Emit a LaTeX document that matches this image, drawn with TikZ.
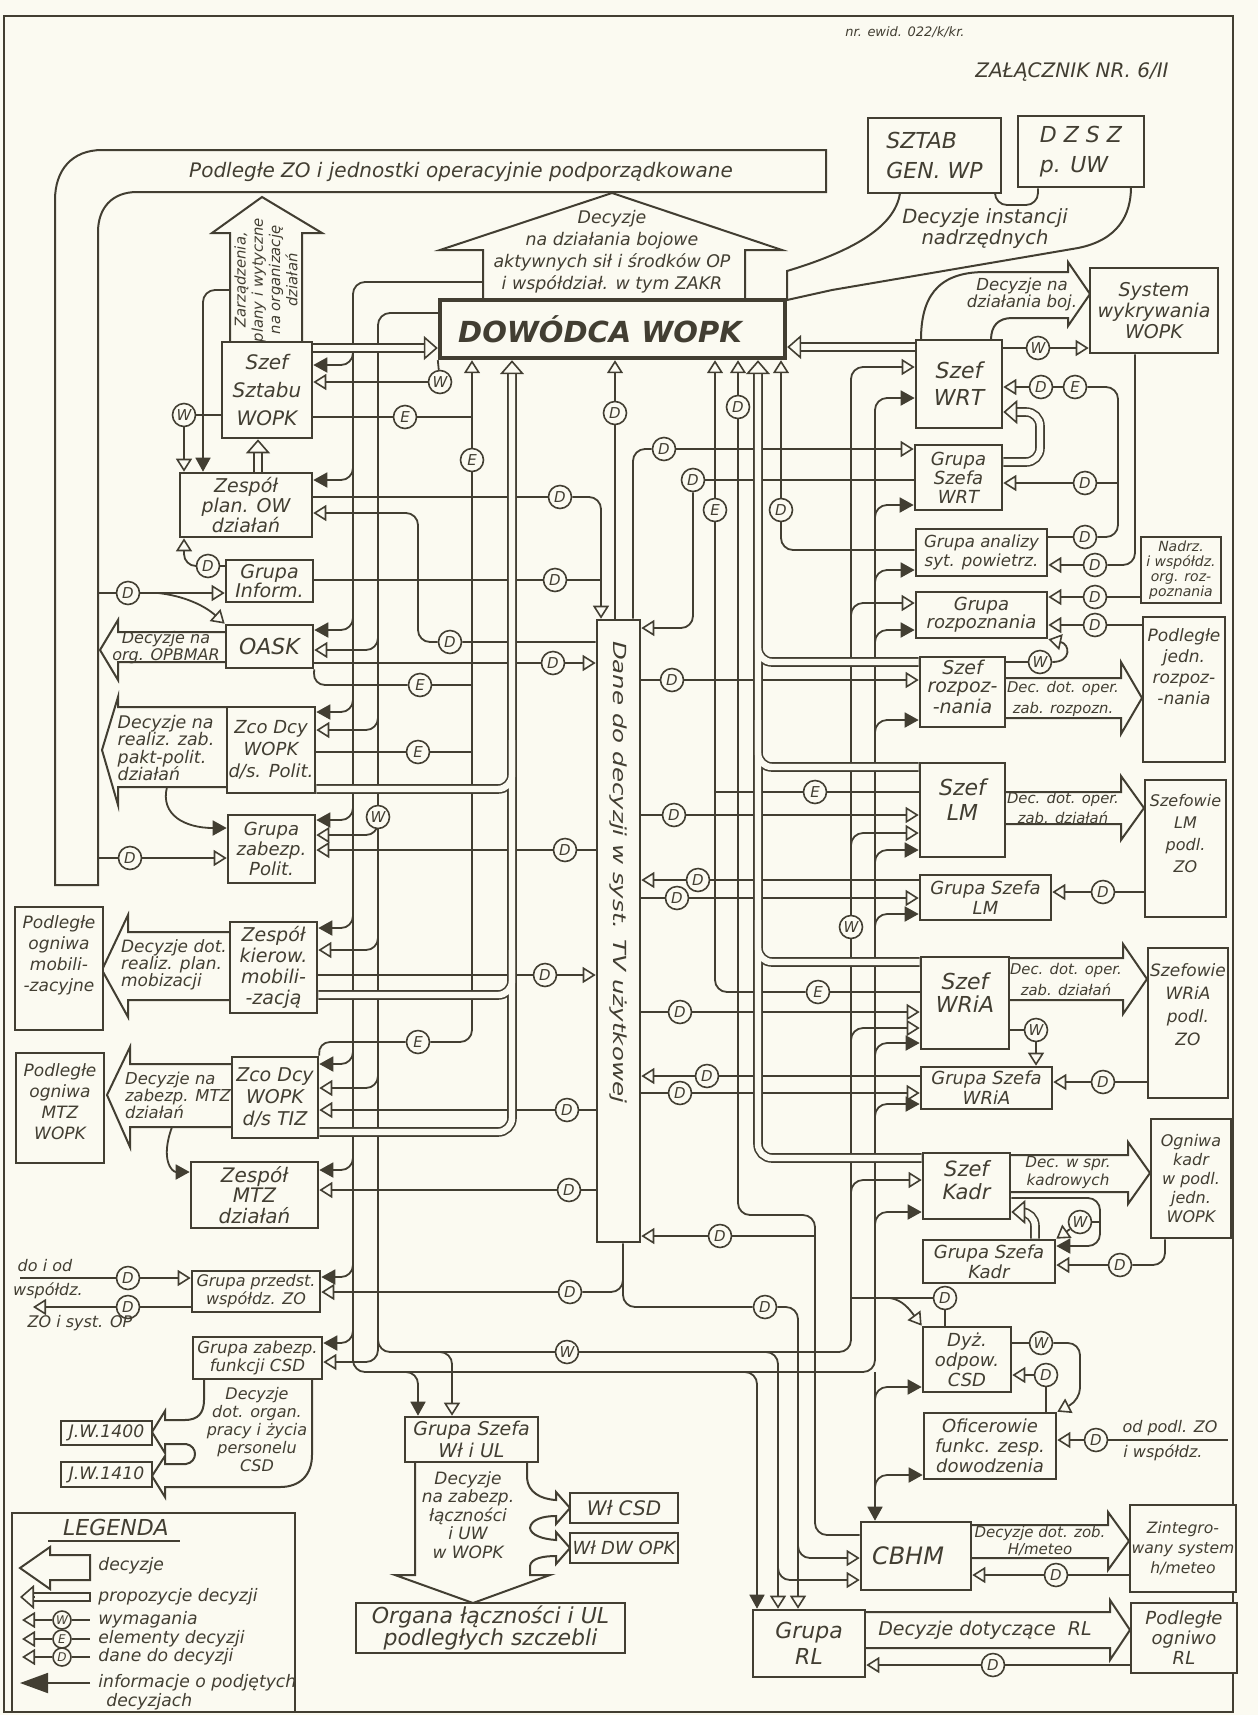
\documentclass[tikz,border=0pt]{standalone}
\usepackage{fontspec}
\usepackage{graphicx}
\setmainfont{DejaVu Sans}
\usetikzlibrary{arrows.meta,fit,calc}
\definecolor{bgc}{RGB}{251,250,241}
\definecolor{lc}{RGB}{66,62,50}
\pgfdeclarelayer{back}
\pgfdeclarelayer{lines}
\pgfsetlayers{back,lines,main}
\newcommand\hwf[2]{\itshape\fontsize{#1}{#2}\selectfont}
\newcommand\mkbox[7][]{%
  \coordinate (#2-a) at (#3,#4);
  \coordinate (#2-b) at (#5,#6);
  \node[box,fit=(#2-a)(#2-b)] (#2) {};
  \node[txt,#1] (#2-t) at (#2.center) {#7};}
\newcommand\propPaths[1]{%
 \draw[#1] (szsz.east |- 0,348) -- (426,348);
 \draw[#1] (zesp.north -| 258,0) -- (258,452);
 \draw[#1] (zpol.east |- 0,789) -- (512,789) -- (512,740);
 \draw[#1] (zkm.east |- 0,995) -- (512,995) -- (512,950);
 \draw[#1] (ztiz.east |- 0,1132) -- (512,1132) -- (512,372);
 \draw[#1] (gswrt.east |- 0,462) -- (1040,462) -- (1040,412) -- (1016,412);
 \draw[#1] (szkadr.west |- 0,1158) -- (758,1158) -- (758,372);
 \draw[#1] (szroz.west |- 0,662) -- (758,662) -- (758,620);
 \draw[#1] (szlm.west |- 0,767) -- (758,767) -- (758,720);
 \draw[#1] (szwria.west |- 0,962) -- (758,962) -- (758,920);
 \draw[#1] (szwrt.west |- 0,347) -- (799,347);
 \draw[#1] (gskadr.north -| 1035,0) -- (1035,1212) -- (1024,1212);
}
\begin{document}
\begin{tikzpicture}[x=0.5pt,y=-0.5pt,
 box/.style={draw=lc,fill=bgc,line width=1.3pt,inner sep=0pt},
 txt/.style={align=center,text=lc,inner sep=0pt,font=\hwf{10}{13}},
 cl/.style={circle,draw=lc,fill=bgc,line width=0.8pt,inner sep=0pt,minimum size=11.5pt,text=lc,font=\hwf{7.5}{8}},
 cls/.style={cl,minimum size=9pt,font=\hwf{6}{6}},
 c/.style={draw=lc,line width=0.9pt,rounded corners=6pt},
 hh/.style={-{Triangle[length=6.5pt,width=8pt,fill=bgc,line width=0.8pt]}},
 fh/.style={-{Triangle[length=7pt,width=7.5pt]}},
 bigar/.style={draw=lc,fill=bgc,line width=1pt,line join=miter},
 propO/.style={draw=lc,line width=4.8pt,rounded corners=7pt},
 propI/.style={draw=bgc,line width=3.2pt,rounded corners=7pt},
 phead/.style={line width=0.8pt,draw=lc,-{Triangle[length=7pt,width=12pt,fill=bgc,line width=0.8pt]}},
]
\useasboundingbox (0,0) rectangle (1258,1715);
\begin{pgfonlayer}{back}
 \fill[bgc] (0,0) rectangle (1258,1715);
 \draw[lc,line width=1.1pt] (4,16) rectangle (1233,1712);
\end{pgfonlayer}

% header
\node[txt,font=\hwf{6.5}{7}] (hd1) at (905,32) {nr. ewid. 022/k/kr.};
\node[txt,font=\hwf{10}{11}] (hd2) at (1072,72) {ZAŁĄCZNIK NR. 6/II};

% band
\draw[bigar] (55,885) -- (55,200) .. controls (55,170) and (72,150) .. (102,150) -- (826,150) -- (826,192) -- (137,192) .. controls (112,192) and (98,208) .. (98,232) -- (98,885) -- cycle;
\node[txt] (bandt) at (461,172) {Podległe ZO i jednostki operacyjnie podporządkowane};

% big arrows
\draw[bigar] (483,300) -- (483,250) -- (440,250) -- (612,193) -- (782,250) -- (745,250) -- (745,300);
\node[txt,font=\hwf{8.7}{11}] (a1t) at (612,252) {Decyzje\\na działania bojowe\\aktywnych sił i środków OP\\i współdział. w tym ZAKR};
\draw[bigar] (230,342) -- (230,233) -- (212,233) -- (262,197) -- (322,233) -- (302,233) -- (302,342);
\node[txt,font=\hwf{7.4}{8.6},rotate=90] (a2t) at (266,280) {Zarządzenia,\\plany i wytyczne\\na organizację\\działań};
\draw[bigar] (226,632) -- (118,632) -- (118,620) -- (100,650) -- (118,680) -- (118,662) -- (226,662);
\node[txt,font=\hwf{8}{8.5}] (a3t) at (166,648) {Decyzje na\\org. OPBMAR};
\draw[bigar] (227,707) -- (118,707) -- (118,697) -- (102,750) -- (118,805) -- (118,787) -- (227,787);
\node[txt,font=\hwf{8.7}{8.8},align=left] (a4t) at (166,748) {Decyzje na\\realiz. zab.\\pakt-polit.\\działań};
\draw[bigar] (230,932) -- (128,932) -- (128,915) -- (102,970) -- (128,1017) -- (128,1000) -- (230,1000);
\node[txt,font=\hwf{8.5}{8.5},align=left] (a5t) at (174,965) {Decyzje dot.\\realiz. plan.\\mobizacji};
\draw[bigar] (232,1064) -- (130,1064) -- (130,1047) -- (107,1095) -- (130,1147) -- (130,1127) -- (232,1127);
\node[txt,font=\hwf{8.2}{8.5},align=left] (a6t) at (178,1095) {Decyzje na\\zabezp. MTZ\\działań};
\draw[bigar] (204,1379) -- (204,1400) .. controls (204,1413) and (198,1420) .. (185,1420) -- (165,1420) -- (165,1411) -- (152,1432) -- (165,1453) -- (165,1444) -- (186,1444) .. controls (198,1446) and (198,1462) .. (186,1464) -- (165,1464) -- (165,1456) -- (152,1476) -- (165,1497) -- (165,1487) -- (280,1487) .. controls (300,1487) and (312,1475) .. (312,1455) -- (312,1379);
\node[txt,font=\hwf{8}{9}] (a7t) at (257,1430) {Decyzje\\dot. organ.\\pracy i życia\\personelu\\CSD};
\draw[bigar] (527,1462) -- (527,1478) .. controls (528,1492) and (540,1499) .. (556,1500) -- (556,1492) -- (570,1508) -- (556,1524) -- (556,1516) .. controls (544,1516) and (531,1519) .. (530,1528) .. controls (531,1535) and (542,1539) .. (556,1540) -- (556,1532) -- (570,1548) -- (556,1564) -- (556,1556) .. controls (544,1556) and (531,1558) .. (530,1566) -- (530,1575) -- (550,1575) -- (473,1603) -- (395,1575) -- (415,1575) -- (415,1462);
\node[txt,font=\hwf{8.5}{9.2}] (a8t) at (468,1515) {Decyzje\\na zabezp.\\łączności\\i UW\\w WOPK};
\draw[bigar] (1005,678) -- (1121,678) -- (1121,662) -- (1142,698) -- (1121,734) -- (1121,718) -- (1005,718);
\draw[bigar] (1005,792) -- (1121,792) -- (1121,776) -- (1144,808) -- (1121,840) -- (1121,824) -- (1005,824);
\draw[bigar] (1009,958) -- (1123,958) -- (1123,944) -- (1147,979) -- (1123,1014) -- (1123,1000) -- (1009,1000);
\draw[bigar] (1010,1155) -- (1128,1155) -- (1128,1142) -- (1150,1173) -- (1128,1204) -- (1128,1192) -- (1010,1192);
\draw[bigar] (971,1525) -- (1108,1525) -- (1108,1512) -- (1129,1541) -- (1108,1570) -- (1108,1558) -- (971,1558);
\draw[bigar] (865,1612) -- (1110,1612) -- (1110,1600) -- (1130,1630) -- (1110,1660) -- (1110,1648) -- (865,1648);
\node[txt,font=\hwf{7.4}{10.5}] (r1t) at (1063,699) {Dec. dot. oper.\\zab. rozpozn.};
\node[txt,font=\hwf{7.4}{10}] (r2t) at (1063,808) {Dec. dot. oper.\\zab. działań};
\node[txt,font=\hwf{7.4}{10.5}] (r3t) at (1066,979) {Dec. dot. oper.\\zab. działań};
\node[txt,font=\hwf{7.6}{9}] (r4t) at (1068,1173) {Dec. w spr.\\kadrowych};
\node[txt,font=\hwf{7.5}{7}] (r5t) at (1040,1541) {Decyzje dot. zob.\\H/meteo};
\node[txt,font=\hwf{9.5}{10}] (r6t) at (985,1630) {Decyzje dotyczące~~RL};
\draw[bigar] (921,340) .. controls (921,300) and (935,272) .. (985,272) -- (1068,272) -- (1068,262) -- (1090,294) -- (1068,326) -- (1068,318) -- (1012,318) .. controls (998,318) and (991,326) .. (991,340);
\node[txt,font=\hwf{8.3}{8.5}] (bojt) at (1022,294) {Decyzje na\\działania boj.};
\draw[bigar] (900,193) .. controls (895,228) and (850,252) .. (787,271) -- (787,300) -- (832,290) -- (1078,248) .. controls (1118,240) and (1131,215) .. (1131,187);
\node[txt,font=\hwf{9.8}{9.2}] (inst) at (985,229) {Decyzje instancji\\nadrzędnych};

% boxes
\coordinate (dow-a) at (440,300); \coordinate (dow-b) at (785,358);
\node[box,line width=2.2pt,fit=(dow-a)(dow-b)] (dow) {};
\node[txt,font=\bfseries\itshape\fontsize{14.5}{16}\selectfont] (dow-t) at (600,329) {DOWÓDCA WOPK};
\mkbox[font=\hwf{11}{15},align=left]{sztab}{868}{118}{1001}{193}{SZTAB\\GEN. WP}
\mkbox[font=\hwf{11}{15},align=left]{dzsz}{1018}{116}{1144}{187}{D Z S Z\\p. UW}
\draw[c] (sztab.south -| 995,0) -- (995,205) -- (1038,205) -- (dzsz.south -| 1038,0);
\mkbox[font=\hwf{9.5}{10.7}]{syswyk}{1090}{268}{1218}{353}{System\\wykrywania\\WOPK}
\mkbox[font=\hwf{10}{14}]{szsz}{222}{342}{312}{438}{Szef\\Sztabu\\WOPK}
\mkbox[font=\hwf{9.5}{9.8}]{zesp}{180}{473}{312}{537}{Zespół\\plan. OW\\działań}
\mkbox[font=\hwf{9.5}{9.5}]{ginf}{226}{560}{313}{602}{Grupa\\Inform.}
\mkbox[font=\hwf{11}{12}]{oask}{226}{625}{313}{668}{OASK}
\mkbox[font=\hwf{9}{11}]{zpol}{227}{707}{315}{793}{Zco Dcy\\WOPK\\d/s. Polit.}
\mkbox[font=\hwf{9}{10}]{gzp}{228}{815}{315}{883}{Grupa\\zabezp.\\Polit.}
\mkbox[font=\hwf{8.5}{10.5},yshift=6.5pt]{pom}{15}{907}{103}{1030}{Podległe\\ogniwa\\mobili-\\-zacyjne}
\mkbox[font=\hwf{9.5}{10.5}]{zkm}{230}{922}{317}{1013}{Zespół\\kierow.\\mobili-\\-zacją}
\mkbox[font=\hwf{8.5}{10.5},yshift=3pt]{pomtz}{16}{1053}{104}{1163}{Podległe\\ogniwa\\MTZ\\WOPK}
\mkbox[font=\hwf{9.5}{11}]{ztiz}{232}{1057}{318}{1138}{Zco Dcy\\WOPK\\d/s TIZ}
\mkbox[font=\hwf{10}{10.2}]{zmtz}{191}{1162}{318}{1228}{Zespół\\MTZ\\działań}
\mkbox[font=\hwf{8}{9}]{gpw}{192}{1271}{320}{1312}{Grupa przedst.\\współdz. ZO}
\mkbox[font=\hwf{8.3}{9}]{gcsd}{193}{1337}{322}{1379}{Grupa zabezp.\\funkcji CSD}
\mkbox[font=\hwf{8.6}{9}]{jwa}{61}{1421}{152}{1445}{J.W.1400}
\mkbox[font=\hwf{8.6}{9}]{jwb}{61}{1462}{152}{1487}{J.W.1410}
\mkbox[font=\hwf{9.5}{11}]{gwl}{405}{1417}{538}{1462}{Grupa Szefa\\Wł i UL}
\mkbox[font=\hwf{11}{11}]{org}{356}{1603}{625}{1653}{Organa łączności i UL\\podległych szczebli}
\mkbox[font=\hwf{10}{10}]{wlcsd}{570}{1493}{678}{1523}{Wł CSD}
\mkbox[font=\hwf{9}{9}]{wldw}{570}{1533}{678}{1563}{Wł DW OPK}
\mkbox[yshift=29.5pt,rotate=-90,font=\hwf{9}{9}]{dane}{597}{620}{640}{1242}{\scalebox{1.36}[1]{Dane do decyzji w syst. TV użytkowej}}
\mkbox[font=\hwf{11}{13.5}]{szwrt}{916}{340}{1002}{428}{Szef\\WRT}
\mkbox[font=\hwf{9}{9.5}]{gswrt}{915}{445}{1002}{510}{Grupa\\Szefa\\WRT}
\mkbox[font=\hwf{8.3}{9.5}]{gan}{916}{529}{1047}{576}{Grupa analizy\\syt. powietrz.}
\mkbox[font=\hwf{9}{9}]{groz}{916}{592}{1047}{638}{Grupa\\rozpoznania}
\mkbox[font=\hwf{9.5}{9},yshift=2.5pt]{szroz}{920}{657}{1005}{727}{Szef\\rozpoz-\\-nania}
\mkbox[font=\hwf{7}{7.6}]{nadrz}{1141}{537}{1221}{603}{Nadrz.\\i współdz.\\org. roz-\\poznania}
\mkbox[font=\hwf{8.5}{10.5},yshift=11.5pt]{podroz}{1143}{617}{1225}{762}{Podległe\\jedn.\\rozpoz-\\-nania}
\mkbox[font=\hwf{11}{12.5},yshift=5pt]{szlm}{920}{763}{1005}{857}{Szef\\LM}
\mkbox[font=\hwf{8}{11},yshift=7.5pt]{szflm}{1145}{780}{1226}{917}{Szefowie\\LM\\podl.\\ZO}
\mkbox[font=\hwf{9}{10}]{gslm}{920}{875}{1051}{920}{Grupa Szefa\\LM}
\mkbox[font=\hwf{11}{11.5},yshift=5pt]{szwria}{921}{957}{1009}{1049}{Szef\\WRiA}
\mkbox[font=\hwf{8.5}{11.5},yshift=9pt]{szfwria}{1148}{948}{1228}{1098}{Szefowie\\WRiA\\podl.\\ZO}
\mkbox[font=\hwf{9}{10}]{gswria}{921}{1067}{1052}{1109}{Grupa Szefa\\WRiA}
\mkbox[font=\hwf{10.5}{11.5},yshift=3pt]{szkadr}{923}{1153}{1010}{1219}{Szef\\Kadr}
\mkbox[font=\hwf{8}{9.5}]{ogk}{1151}{1119}{1231}{1238}{Ogniwa\\kadr\\w podl.\\jedn.\\WOPK}
\mkbox[font=\hwf{9}{10}]{gskadr}{923}{1240}{1055}{1283}{Grupa Szefa\\Kadr}
\mkbox[font=\hwf{9}{10}]{dyz}{923}{1327}{1011}{1392}{Dyż.\\odpow.\\CSD}
\mkbox[font=\hwf{9}{10}]{ofic}{924}{1413}{1056}{1479}{Oficerowie\\funkc. zesp.\\dowodzenia}
\mkbox[font=\hwf{12}{12},xshift=-4pt]{cbhm}{861}{1522}{971}{1590}{CBHM}
\mkbox[font=\hwf{7.8}{10}]{zint}{1130}{1505}{1236}{1592}{Zintegro-\\wany system\\h/meteo}
\mkbox[font=\hwf{11}{13}]{grl}{753}{1610}{865}{1677}{Grupa\\RL}
\mkbox[font=\hwf{9}{10}]{porl}{1131}{1603}{1237}{1673}{Podległe\\ogniwo\\RL}
\mkbox{leg}{12}{1513}{295}{1712}{}

% circles
\foreach \nm/\x/\y/\l in {w1/184/415/W, e1/405/417/E, w2/440/382/W, e2/472/460/E, d1/615/413/D, d2/738/407/D, d3/560/497/D, d4/555/580/D, d5/450/642/D, d6/553/663/D, d7/208/566/D, d8/128/593/D, e3/420/685/E, e4/418/752/E, w3/378/817/W, d9/565/850/D, d10/130/858/D, d11/545/975/D, e5/418/1042/E, d12/567/1110/D, d13/569/1190/D, d14/128/1278/D, d15/128/1307/D, d16/570/1292/D, w4/567/1352/W, d17/765/1307/D, d18/664/449/D, d19/693/480/D, e6/715/510/E, d20/781/510/D, w5/1038/348/W, d21/1041/387/D, e7/1075/387/E, d22/1085/483/D, d23/1085/537/D, d24/1095/565/D, d25/1095/597/D, d26/1095/625/D, w6/1040/662/W, d27/672/680/D, e8/815/792/E, d28/674/815/D, d29/698/880/D, d30/677/898/D, w7/851/927/W, d31/1103/892/D, e9/818/992/E, d32/680/1012/D, w8/1036/1030/W, d33/707/1076/D, d34/680/1093/D, d35/1103/1082/D, w9/1080/1222/W, d36/1120/1265/D, d37/720/1236/D, d38/945/1298/D, w10/1041/1343/W, d39/1046/1375/D, d40/1096/1440/D, d41/1056/1575/D, d42/993/1665/D}
  \node[cl] (\nm) at (\x,\y) {\l};

% free texts
\node[txt,font=\hwf{8}{9}] (t1) at (1170,1428) {od podl. ZO};
\node[txt,font=\hwf{8}{9}] (t2) at (1163,1453) {i współdz.};
\node[txt,font=\hwf{8}{9}] (t3) at (45,1266) {do i od};
\node[txt,font=\hwf{8}{9}] (t4) at (48,1291) {współdz.};
\node[txt,font=\hwf{8}{9}] (t5) at (80,1323) {ZO i syst. OP};

% legend
\node[txt,font=\hwf{11}{11}] (lg0) at (116,1527) {LEGENDA};
\draw[lc,line width=0.8pt] (48,1541) -- (180,1541);
\draw[bigar] (90,1555) -- (50,1555) -- (50,1547) -- (20,1568) -- (50,1589) -- (50,1580) -- (90,1580) -- cycle;
\node[txt,font=\hwf{8.6}{9},anchor=west] (lg1) at (98,1566) {decyzje};
\draw[propO] (90,1597) -- (34,1597);
\draw[propI] (90,1597) -- (34,1597);
\draw[lc,line width=0.8pt] (90,1592.2) -- (90,1601.8);
\draw[phead] (34,1597) -- (20,1597);
\node[txt,font=\hwf{8.6}{9},anchor=west] (lg2) at (98,1597) {propozycje decyzji};
\node[cls] (lw) at (62,1620) {W};
\node[cls] (le) at (62,1639) {E};
\node[cls] (ld) at (62,1657) {D};
\draw[c,hh] (lw) -- (22,1620); \draw[c] (lw) -- (90,1620);
\draw[c,hh] (le) -- (22,1639); \draw[c] (le) -- (90,1639);
\draw[c,hh] (ld) -- (22,1657); \draw[c] (ld) -- (90,1657);
\node[txt,font=\hwf{8.6}{9},anchor=west] (lg3) at (98,1620) {wymagania};
\node[txt,font=\hwf{8.6}{9},anchor=west] (lg4) at (98,1639) {elementy decyzji};
\node[txt,font=\hwf{8.6}{9},anchor=west] (lg5) at (98,1657) {dane do decyzji};
\draw[c,-{Triangle[length=14pt,width=10pt]}] (90,1683) -- (20,1683);
\node[txt,font=\hwf{8.6}{9},anchor=west] (lg6) at (98,1683) {informacje o podjętych};
\node[txt,font=\hwf{8.6}{9},anchor=west] (lg7) at (106,1702) {decyzjach};

\begin{pgfonlayer}{lines}
% filled bus
\draw[c,fh] (483,282) -- (353,282) -- (353,1372) -- (875,1372) -- (875,398) -- (szwrt.west |- 0,398);
\foreach \bb/\y in {szsz/365,zesp/480,oask/630,zpol/712,gzp/820,zkm/928,ztiz/1064,zmtz/1170,gpw/1277,gcsd/1343}
  \draw[c,fh] (353,\y-22) -- (353,\y) -- (\bb.east |- 0,\y);
\foreach \bb/\y in {gswrt/505,gan/570,groz/630,szroz/720,szlm/850,gslm/914,szwria/1043,gswria/1104,szkadr/1212,dyz/1387,ofic/1475}
  \draw[c,fh] (875,\y+22) -- (875,\y) -- (\bb.west |- 0,\y);
\draw[c,fh] (875,1372) -- (cbhm.north -| 875,0);
\draw[c,fh] (400,1372) -- (418,1372) -- (gwl.north -| 418,0);
\draw[c,fh] (740,1372) -- (757,1372) -- (grl.north -| 757,0);
% W bus
\draw[c,hh] (dow.west |- 0,313) -- (378,313) -- (378,1352) -- (851,1352) -- (851,367) -- (szwrt.west |- 0,367);
\foreach \bb/\y in {oask/650,zpol/730,gzp/835,zkm/950,ztiz/1088,gcsd/1362}
  \draw[c,hh] (378,\y-22) -- (378,\y) -- (\bb.east |- 0,\y);
\foreach \bb/\y in {groz/603,szlm/833,szwria/1028,szkadr/1180}
  \draw[c,hh] (851,\y+22) -- (851,\y) -- (\bb.west |- 0,\y);
\draw[c,hh] (435,1352) -- (452,1352) -- (gwl.north -| 452,0);
\draw[c,hh] (760,1352) -- (778,1352) -- (grl.north -| 778,0);
\draw[c,hh] (778,1560) -- (778,1580) -- (cbhm.west |- 0,1580);
% E buses
\draw[c,hh] (e5) -- (472,1042) -- (dow.south -| 472,0);
\draw[c] (szsz.east |- e1) -- (e1); \draw[c] (e1) -- (472,417);
\draw[c] (oask.south east) -- (313,685) -- (e3); \draw[c] (e3) -- (472,685);
\draw[c] (zpol.east |- e4) -- (e4) -- (472,752);
\draw[c] (ztiz.north east) -- (318,1042) -- (e5);
\draw[c,hh] (e9) -- (715,992) -- (dow.south -| 715,0);
\draw[c] (szwria.west |- e9) -- (e9);
\draw[c] (szlm.west |- e8) -- (e8) -- (715,792);
% D verticals to DOWODCA
\draw[c,hh] (cbhm.west |- 0,1535) -- (815,1535) -- (815,1215) -- (738,1215) -- (dow.south -| 738,0);
\draw[c] (815,1236) -- (d37); \draw[c,hh] (d37) -- (d37 -| dane.east);
\draw[c,hh] (gan.west |- 0,550) -- (781,550) -- (dow.south -| 781,0);
\draw[c,hh] (dane.north -| 615,0) -- (dow.south -| 615,0);
% left data lines
\draw[c] (zesp.east |- d3) -- (d3); \draw[c,hh] (d3) -- (601,497) -- (dane.north -| 601,0);
\draw[c] (ginf.east |- d4) -- (d4) -- (601,580);
\draw[c,hh] (dane.west |- d5) -- (d5) -- (418,642) -- (418,513) -- (zesp.east |- 0,513);
\draw[c] (oask.east |- d6) -- (d6); \draw[c,hh] (d6) -- (d6 -| dane.west);
\draw[c] (ginf.west |- d7) -- (d7); \draw[c,hh] (d7) -- (184,566) -- (zesp.south -| 184,0);
\draw[c] (98,593) -- (d8); \draw[c,hh] (d8) -- (d8 -| ginf.west);
\draw[c,hh] (158,593) .. controls (185,596) and (205,606) .. (oask.north west);
\draw[c] (szsz.west |- w1) -- (w1); \draw[c,hh] (w1) -- (w1 |- zesp.north);
\draw[c] (dow.south west) -- (w2); \draw[c,hh] (w2) -- (w2 -| szsz.east);
\draw[c,fh] (230,290) -- (203,290) -- (zesp.north -| 203,0);
\draw[c] (dane.west |- d9) -- (d9); \draw[c,hh] (d9) -- (d9 -| gzp.east);
\draw[c] (98,858) -- (d10); \draw[c,hh] (d10) -- (d10 -| gzp.west);
\draw[c,fh] (167,787) .. controls (160,815) and (185,828) .. (gzp.west |- 0,828);
\draw[c,fh] (172,1127) .. controls (160,1160) and (172,1172) .. (zmtz.west |- 0,1172);
\draw[c] (zkm.east |- d11) -- (d11); \draw[c,hh] (d11) -- (d11 -| dane.west);
\draw[c] (dane.west |- d12) -- (d12); \draw[c,hh] (d12) -- (d12 -| ztiz.east);
\draw[c] (dane.west |- d13) -- (d13); \draw[c,hh] (d13) -- (d13 -| zmtz.east);
\draw[c] (20,1278) -- (d14); \draw[c,hh] (d14) -- (d14 -| gpw.west);
\draw[c] (gpw.west |- d15) -- (d15); \draw[c,hh] (d15) -- (33,1307);
\draw[c] (dane.south -| 623,0) -- (623,1307) -- (d17);
\draw[c,hh] (d17) -- (798,1307) -- (grl.north -| 798,0);
\draw[c] (623,1270) -- (623,1292) -- (d16);
\draw[c,hh] (d16) -- (d16 -| gpw.east);
\draw[c,hh] (798,1538) -- (798,1558) -- (cbhm.west |- 0,1558);
% right data lines
\draw[c] (dane.north -| 633,0) -- (633,449) -- (d18); \draw[c,hh] (d18) -- (d18 -| gswrt.west);
\draw[c] (gswrt.west |- d19) -- (d19); \draw[c,hh] (d19) -- (693,628) -- (dane.east |- 0,628);
\foreach \cc/\bb in {d27/szroz,d28/szlm,d30/gslm,d32/szwria,d34/gswria}
  {\draw[c] (dane.east |- \cc) -- (\cc); \draw[c,hh] (\cc) -- (\cc -| \bb.west);}
\foreach \cc/\bb in {d29/gslm,d33/gswria}
  {\draw[c] (\bb.west |- \cc) -- (\cc); \draw[c,hh] (\cc) -- (\cc -| dane.east);}
% right interconnections
\draw[c] (szwrt.east |- w5) -- (w5); \draw[c,hh] (w5) -- (w5 -| syswyk.west);
\draw[c,hh] (d21) -- (d21 -| szwrt.east);
\draw[c] (d21) -- (e7);
\draw[c] (e7) -- (1118,387) -- (1118,537) -- (d23);
\draw[c] (gan.east |- d23) -- (d23);
\draw[c,hh] (d22) -- (d22 -| gswrt.east); \draw[c] (d22) -- (1118,483);
\draw[c,hh] (d24) -- (d24 -| gan.east); \draw[c] (d24) -- (1135,565) -- (syswyk.south -| 1135,0);
\draw[c] (nadrz.west |- d25) -- (d25); \draw[c,hh] (d25) -- (d25 -| groz.east);
\draw[c] (podroz.west |- d26) -- (d26); \draw[c,hh] (d26) -- (d26 -| groz.east);
\draw[c] (szroz.east |- w6) -- (w6); \draw[c,hh] (w6.east) .. controls (1072,662) and (1070,644) .. (groz.south east);
\draw[c,hh] (d31) -- (d31 -| gslm.east); \draw[c] (szflm.west |- d31) -- (d31);
\draw[c,hh] (d35) -- (d35 -| gswria.east); \draw[c] (szfwria.west |- d35) -- (d35);
\draw[c] (szwria.east |- w8) -- (w8); \draw[c,hh] (w8) -- (w8 |- gswria.north);
\draw[c,fh] (szkadr.east |- 0,1198) -- (1100,1198) -- (1100,1246) -- (gskadr.east |- 0,1246);
\draw[c] (1100,1222) -- (w9); \draw[c,hh] (w9) -- (gskadr.north east);
\draw[c,hh] (d36) -- (d36 -| gskadr.east); \draw[c] (d36) -- (1165,1265) -- (ogk.south -| 1165,0);
\draw[c] (851,1298) -- (d38); \draw[c] (d38) -- (d38 |- dyz.north);
\draw[c,hh] (890,1298) .. controls (903,1300) and (910,1310) .. (dyz.north west);
\draw[c] (dyz.east |- w10) -- (w10); \draw[c,hh] (w10) -- (1080,1343) -- (1080,1400) -- (ofic.north east);
\draw[c,hh] (d39) -- (d39 -| dyz.east); \draw[c] (d39) -- (d39 |- ofic.north);
\draw[c,hh] (d40) -- (d40 -| ofic.east); \draw[c] (d40) -- (1228,1440);
\draw[c,hh] (d41) -- (d41 -| cbhm.east); \draw[c] (zint.west |- d41) -- (d41);
\draw[c,hh] (d42) -- (d42 -| grl.east); \draw[c] (porl.west |- d42) -- (d42);
% proposal double lines
\propPaths{propO}
\propPaths{propI}
\end{pgfonlayer}

% proposal heads
\draw[phead] (426,348) -- (dow.west |- 0,348);
\draw[phead] (258,452) -- (szsz.south -| 258,0);
\draw[phead] (512,372) -- (dow.south -| 512,0);
\draw[phead] (1016,412) -- (szwrt.east |- 0,412);
\draw[phead] (758,372) -- (dow.south -| 758,0);
\draw[phead] (799,347) -- (dow.east |- 0,347);
\draw[phead] (1024,1212) -- (szkadr.east |- 0,1212);
\end{tikzpicture}
\end{document}
